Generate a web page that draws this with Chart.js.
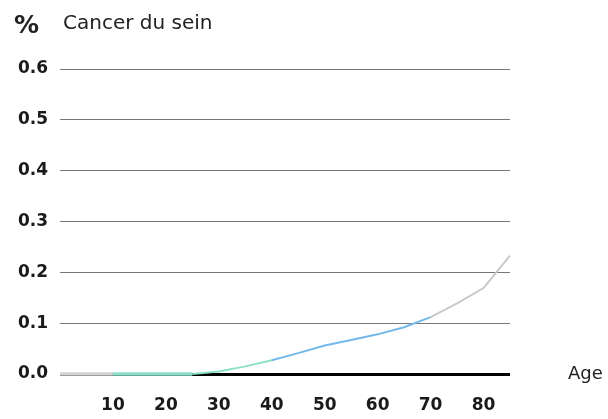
<!DOCTYPE html>
<html>
<head>
<meta charset="utf-8">
<script src="https://cdn.jsdelivr.net/npm/chart.js@4"></script>
<style>
  body { margin: 0; background: #fff; font-family: "DejaVu Sans", sans-serif; }
  #wrap { position: relative; width: 608px; height: 419px; }
  canvas { position: absolute; left: 0; top: 0; }
  .lbl { position: absolute; color: #222; white-space: nowrap; line-height: 1; }
</style>
</head>
<body>
<div id="wrap">
  <canvas id="chart" width="608" height="419"></canvas>
  <div class="lbl" style="left:14px;top:12px;font-weight:bold;font-size:25px;">%</div>
  <div class="lbl" style="left:63px;top:12px;font-size:20px;">Cancer du sein</div>
  <div class="lbl" style="left:568px;top:364px;font-size:18px;">Age</div>
</div>
<script>
const ages = [0, 10, 20, 25, 30, 35, 40, 45, 50, 55, 60, 65, 70, 75, 80, 85];
const risk = [0, 0, 0, 0, 0.005, 0.015, 0.027, 0.041, 0.056, 0.067, 0.078, 0.092, 0.112, 0.139, 0.169, 0.233];
const xTicks = [10, 20, 30, 40, 50, 60, 70, 80];
const yTicks = [0, 0.1, 0.2, 0.3, 0.4, 0.5, 0.6];

// colour of the curve by age band
function bandColor(ctx) {
  const a = ctx.p0.parsed.x;
  if (a < 10) return "#d2d2d2";
  if (a < 40) return "#8ce0c8";
  if (a < 70) return "#74b9ec";
  return "#c9c9c9";
}
// flat part sits on the axis, make it cover the black line
function bandWidth(ctx) {
  return (ctx.p0.parsed.y === 0 && ctx.p1.parsed.y === 0) ? 3.5 : 2;
}

const ctx = document.getElementById("chart");
new Chart(ctx, {
  type: "line",
  data: {
    datasets: [{
      data: ages.map((a, i) => ({ x: a, y: risk[i] })),
      borderWidth: 2,
      pointRadius: 0,
      tension: 0,
      clip: false,
      segment: { borderColor: bandColor, borderWidth: bandWidth },
    }],
  },
  options: {
    responsive: false,
    animation: false,
    layout: { padding: { top: 69, right: 98, left: 0, bottom: 0 } },
    plugins: { legend: { display: false }, tooltip: { enabled: false } },
    scales: {
      x: {
        type: "linear",
        min: 0,
        max: 85,
        afterBuildTicks: (s) => { s.ticks = xTicks.map((v) => ({ value: v })); },
        afterFit: (s) => { s.height = 45; },
        grid: { display: false },
        border: { display: false },
        ticks: { color: "#1a1a1a", padding: 13, font: { family: "DejaVu Sans", size: 17, weight: "bold" } },
      },
      y: {
        min: 0,
        max: 0.6,
        afterBuildTicks: (s) => { s.ticks = yTicks.map((v) => ({ value: v })); },
        afterFit: (s) => { s.width = 60; },
        grid: {
          z: -1,
          drawTicks: false,
          color: (c) => (c.tick.value === 0 ? "#000" : "#777"),
          lineWidth: (c) => (c.tick.value === 0 ? 3 : 1),
        },
        border: { display: false },
        ticks: {
          color: "#1a1a1a",
          padding: 12,
          font: { family: "DejaVu Sans", size: 17, weight: "bold" },
          callback: (v) => v.toFixed(1),
        },
      },
    },
  },
});
</script>
</body>
</html>
